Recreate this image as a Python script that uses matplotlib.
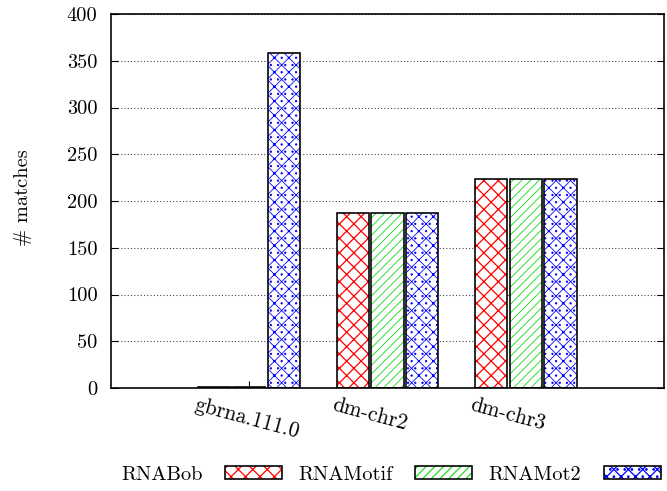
import matplotlib
matplotlib.use("Agg")
import matplotlib.pyplot as plt
import matplotlib.patches as mpatches
from matplotlib.legend_handler import HandlerTuple
from matplotlib.transforms import ScaledTranslation, blended_transform_factory
import numpy as np

categories = ["gbrna.111.0", "dm-chr2", "dm-chr3"]
series_names = ["RNABob", "RNAMotif", "RNAMot2"]
rnabob = [1, 187, 224]
rnamotif = [1, 187, 224]
rnamot2 = [358, 187, 224]
yticks = [0, 50, 100, 150, 200, 250, 300, 350, 400]

DPI = 130
plt.rcParams['font.family'] = ['cmr10', 'DejaVu Serif']
plt.rcParams['mathtext.fontset'] = 'cm'
plt.rcParams['axes.formatter.use_mathtext'] = True
plt.rcParams['hatch.linewidth'] = 0.7
FS = 11.3

fig = plt.figure(figsize=(667 / DPI, 491 / DPI), dpi=DPI)
ax = fig.add_axes([111 / 667, 1 - 388 / 491, 553 / 667, 374 / 491])

colors = ['#ff0000', '#22dd22', '#0000ff']
hatches = ['xxx', '/////', 'xxx...']
hlw = [0.7, 0.5, 0.45]
data = [rnabob, rnamotif, rnamot2]
offsets = [-0.25, 0.0, 0.25]
width = 0.235
x = np.arange(len(categories))

handles = []
for vals, c, h, off, lw in zip(data, colors, hatches, offsets, hlw):
    with plt.rc_context({'hatch.linewidth': lw}):
        ax.bar(x + off, vals, width, facecolor='white', edgecolor=c, hatch=h, linewidth=0, zorder=2)
        ph = mpatches.Patch(facecolor='white', edgecolor=c, hatch=h, linewidth=0)
    ax.bar(x + off, vals, width, fill=False, edgecolor='black', linewidth=0.9, zorder=3)
    pb = mpatches.Patch(fill=False, edgecolor='black', linewidth=0.9)
    handles.append((ph, pb))

ax.set_xlim(-1, 3)
ax.set_ylim(0, 400)
ax.set_yticks(yticks)
ax.set_yticklabels([str(v) for v in yticks], fontsize=FS)
ax.set_xticks(x)
ax.set_xticklabels([])
ax.tick_params(axis='y', direction='in', length=3.8, width=0.6, right=True, pad=7.5)
ax.tick_params(axis='x', direction='in', length=3.8, width=0.6, top=False)
ax.set_axisbelow(True)
ax.yaxis.grid(True, linestyle=(0, (1, 2)), color='#444444', linewidth=0.6)
for s in ax.spines.values():
    s.set_linewidth(0.9)

trans = blended_transform_factory(ax.transData, ax.transAxes) + \
    ScaledTranslation(-52 / DPI, -7 / DPI, fig.dpi_scale_trans)
for xi, lab in zip(x, categories):
    ax.text(xi, 0, lab, transform=trans, rotation=-15, rotation_mode='anchor',
            ha='left', va='top', fontsize=11.8)

ax.set_ylabel('# matches', fontsize=FS)
ax.yaxis.set_label_coords(-0.142, 0.51)

fig.legend(handles, series_names, handler_map={tuple: HandlerTuple(ndivide=1, pad=0)},
           loc='center', bbox_to_anchor=(391 / 667, 1 - 475 / 491), ncol=3,
           frameon=False, markerfirst=False, fontsize=FS,
           handlelength=2.8, handleheight=0.6, handletextpad=1.1,
           columnspacing=0.8, borderpad=0, borderaxespad=0)

fig.savefig('out.png', dpi=DPI)
